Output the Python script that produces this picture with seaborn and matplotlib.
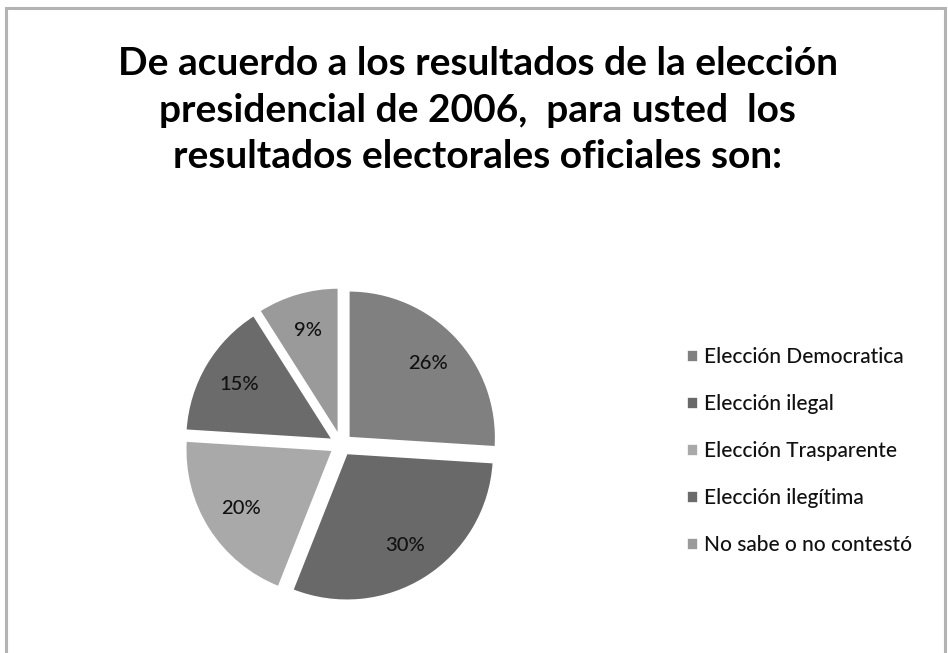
import matplotlib
matplotlib.use("Agg")
import matplotlib.pyplot as plt
from matplotlib.patches import Rectangle
import seaborn as sns

categories = ["Elección Democratica", "Elección ilegal", "Elección Trasparente",
              "Elección ilegítima", "No sabe o no contestó"]
percentages = [26, 30, 20, 15, 9]
slice_colors = ["#808080", "#696969", "#a9a9a9", "#6b6b6b", "#9a9a9a"]
title_text = ("De acuerdo a los resultados de la elección\n"
              "presidencial de 2006,  para usted  los\n"
              "resultados electorales oficiales son:")

sns.set_theme(style="white")
plt.rcParams["font.family"] = ["Lato", "DejaVu Sans"]

fig = plt.figure(figsize=(9.48, 6.53), dpi=100)
fig.patch.set_facecolor("white")

# outer chart-area frame (open at the bottom edge of the image)
fig.patches.append(Rectangle((6 / 948, -0.05), 939 / 948, 1.05 - 8 / 653,
                             transform=fig.transFigure, fill=False,
                             edgecolor="#b3b3b3", linewidth=2.2))

fig.text(0.504, 0.8315, title_text, ha="center", va="center",
         fontsize=28, fontweight="bold", linespacing=1.4, color="#000000")

ax = fig.add_axes([0.174, 0.049, 0.372, 0.540])
wedges, texts, autotexts = ax.pie(
    percentages, colors=slice_colors, startangle=90, counterclock=False,
    explode=[0.07] * len(percentages), autopct="%d%%", pctdistance=0.74,
    wedgeprops=dict(edgecolor="white", linewidth=1.2),
    textprops=dict(fontsize=14.5, color="#111111", fontweight="medium"))
ax.set_xlim(-1.2, 1.2)
ax.set_ylim(-1.2, 1.2)
ax.set_aspect("equal")
ax.axis("off")

leg = fig.legend(wedges, categories, loc="center left", bbox_to_anchor=(0.725, 0.309),
                 frameon=False, fontsize=15, handlelength=0.5, handleheight=0.5,
                 handletextpad=0.3, labelspacing=1.3, borderpad=0, borderaxespad=0)
for t in leg.get_texts():
    t.set_color("#111111")
    t.set_fontweight("medium")

fig.savefig("out.png", dpi=100, facecolor="white")
